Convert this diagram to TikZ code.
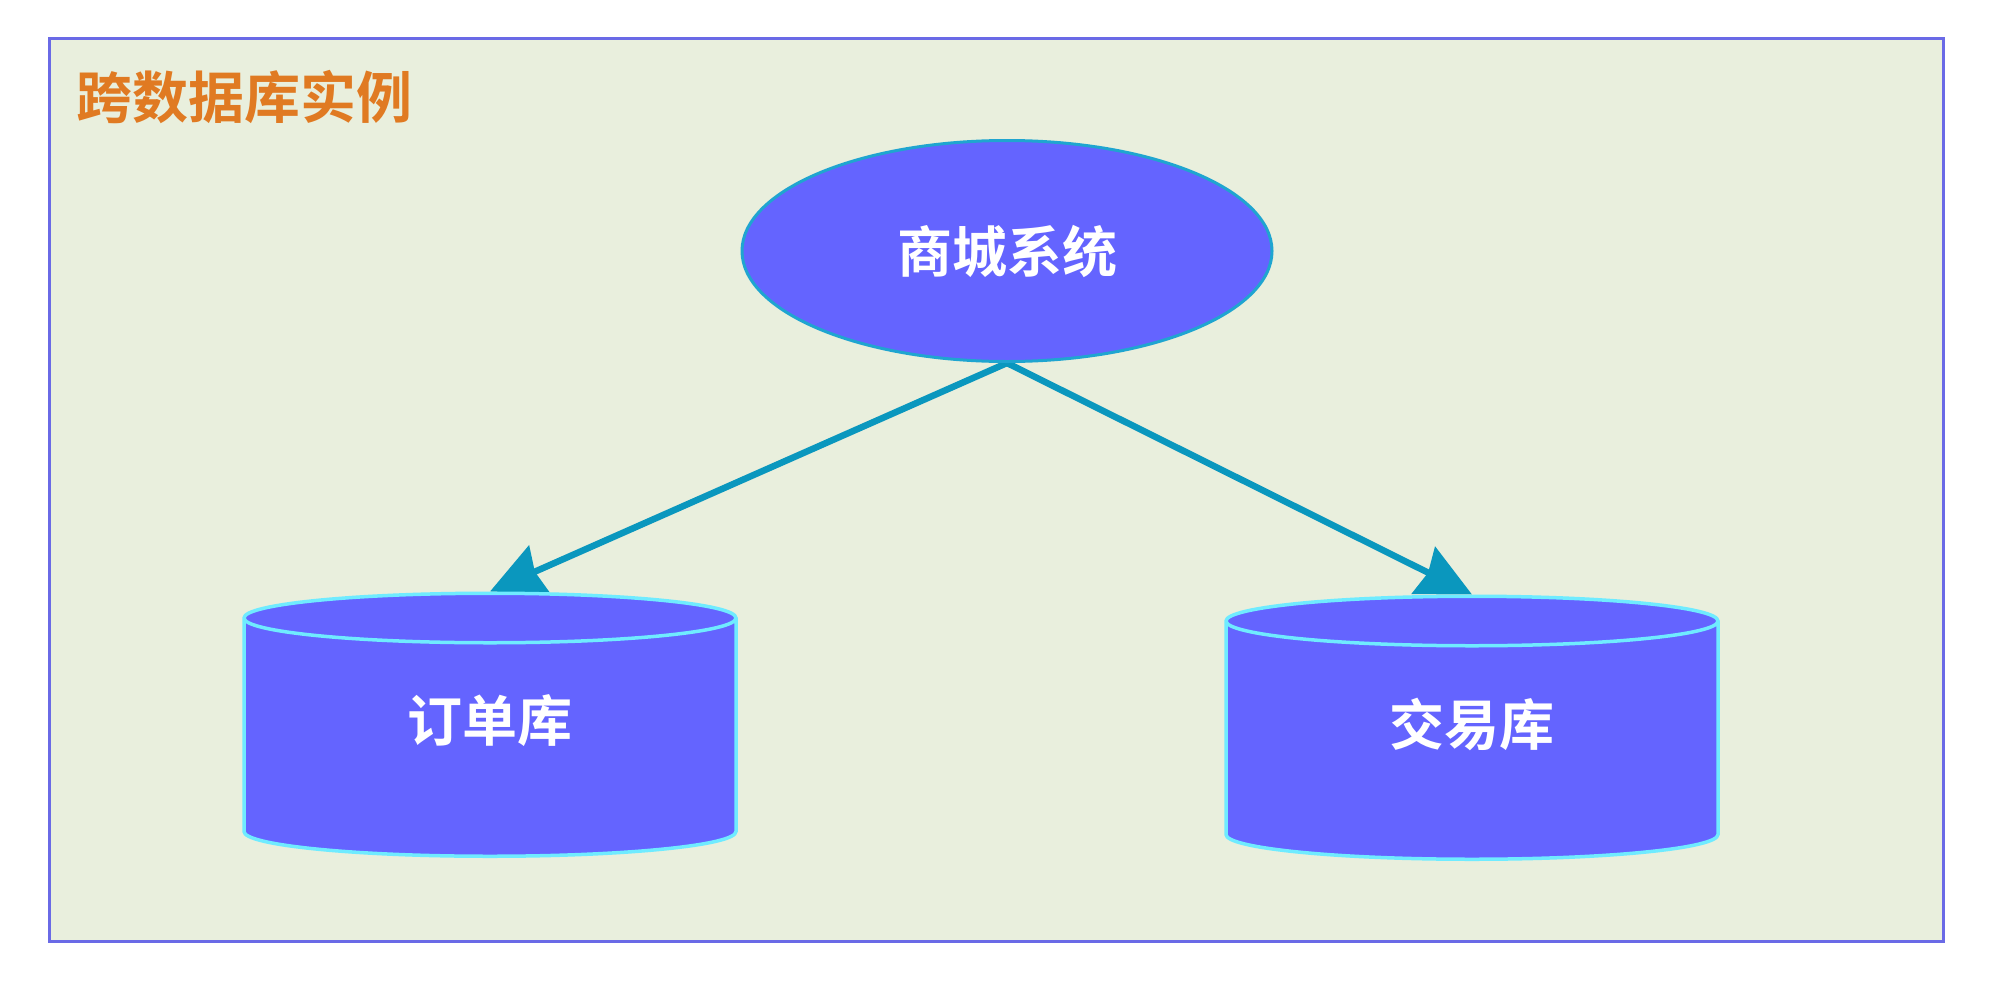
\documentclass[tikz,border=0pt]{standalone}
\usepackage{fontspec}
\newfontfamily\cjk{Noto Sans CJK SC}[BoldFont={Noto Sans CJK SC Bold}]
\usetikzlibrary{shapes.geometric,arrows.meta,backgrounds}
\definecolor{framecol}{HTML}{6A6AE6}
\definecolor{panelbg}{HTML}{E9EFDD}
\definecolor{shapefill}{HTML}{6464FF}
\definecolor{ellipseedge}{HTML}{1FA5D0}
\definecolor{cyledge}{HTML}{6FEBFF}
\definecolor{arrowcol}{HTML}{0A97BE}
\definecolor{titlecol}{HTML}{E07A22}
\newcommand{\lifted}[1]{\raisebox{17pt}[\height][\depth]{#1}}
\tikzset{
  x=1pt,y=-1pt,
  labeltext/.style={font=\cjk\bfseries\fontsize{55}{55}\selectfont,text=white},
  sysnode/.style={ellipse,draw=ellipseedge,line width=3pt,fill=shapefill,minimum width=530pt,minimum height=221pt,inner sep=0pt,labeltext},
  dbnode/.style={cylinder,shape border rotate=90,shape aspect=0.30,draw=cyledge,line width=3.5pt,cylinder uses custom fill,cylinder body fill=shapefill,cylinder end fill=shapefill,minimum width=492pt,minimum height=263pt,inner sep=0pt,labeltext},
  link/.style={draw=arrowcol,line width=6.5pt,-{Stealth[length=54pt,width=52pt,inset=5pt]}},
}
\begin{document}
\begin{tikzpicture}
\useasboundingbox (0,0) rectangle (2000,996);
\begin{scope}[on background layer]
  \fill[white] (0,0) rectangle (2000,996);
  \draw[framecol,line width=3pt,fill=panelbg] (49,38) rectangle (1943,941);
\end{scope}
\node[anchor=center,font=\cjk\bfseries\fontsize{56}{56}\selectfont,text=titlecol] (title) at (244,97) {跨数据库实例};
\node[sysnode] (sys) at (1007,251) {商城系统};
\node[dbnode] (orders) at (490,738) {\lifted{订单库}};
\node[dbnode] (trade) at (1472,741) {\lifted{交易库}};
\begin{scope}[on background layer]
  \draw[link] (sys.south) -- (orders.north);
  \draw[link] (sys.south) -- (trade.north);
\end{scope}
\end{tikzpicture}
\end{document}
